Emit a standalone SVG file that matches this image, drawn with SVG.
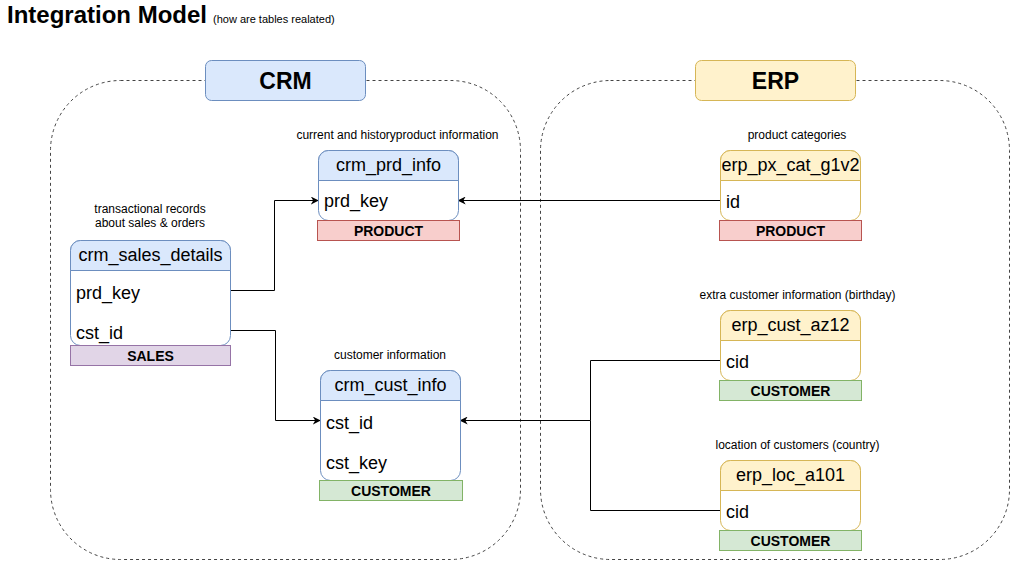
<svg xmlns="http://www.w3.org/2000/svg" width="1011" height="561" viewBox="0 0 1011 561">
<defs>
<marker id="arr" viewBox="0 0 10 10" refX="9" refY="5" markerWidth="8" markerHeight="8" markerUnits="userSpaceOnUse" orient="auto">
<path d="M0,0 L10,5 L0,10 L3,5 Z" fill="#000"/>
</marker>
<style>
text{font-family:"Liberation Sans",Arial,sans-serif;fill:#000}
.cont{fill:none;stroke:#444;stroke-dasharray:3 3;stroke-width:1}
.lbl{font-size:23px;font-weight:bold;text-anchor:middle}
.note{font-size:12px;text-anchor:middle}
.hdr{font-size:18px;text-anchor:middle}
.row{font-size:18px}
.tag{font-size:14px;font-weight:bold;text-anchor:middle}
.blue{stroke:#6c8ebf}
.yel{stroke:#d6b656}
.body{fill:#fff;stroke-width:1}
.conn{fill:none;stroke:#000;stroke-width:1}
</style>
</defs>
<rect width="1011" height="561" fill="#fff"/>
<g id="title">
<text x="7" y="23" font-size="24" font-weight="bold">Integration Model</text>
<text x="213" y="23" font-size="11">(how are tables realated)</text>
</g>
<g id="crm-container">
<rect class="cont" x="50.5" y="80.5" width="470" height="479" rx="70"/>
<rect x="205.5" y="60.5" width="160" height="40" rx="6" fill="#dae8fc" stroke="#6c8ebf"/>
<text class="lbl" x="285.5" y="88.5">CRM</text>
</g>
<g id="erp-container">
<rect class="cont" x="540.5" y="80.5" width="469" height="479" rx="70"/>
<rect x="695.5" y="60.5" width="160" height="40" rx="6" fill="#fff2cc" stroke="#d6b656"/>
<text class="lbl" x="775.5" y="88.5">ERP</text>
</g>
<g id="connectors">
<path class="conn" d="M230.5 290.5 H274.5 V200.5 H318" marker-end="url(#arr)"/>
<path class="conn" d="M230.5 330.5 H275.5 V420.5 H320" marker-end="url(#arr)"/>
<path class="conn" d="M720 200.5 H458.5" marker-end="url(#arr)"/>
<path class="conn" d="M720 360.5 H590.5 V420.5 H460.5" marker-end="url(#arr)"/>
<path class="conn" d="M720 510.5 H590.5 V420.5"/>
</g>
<g id="crm_prd_info">
<text class="note" x="397.5" y="138.5">current and historyproduct information</text>
<rect class="body blue" x="318.5" y="150.5" width="140" height="70" rx="10"/>
<path d="M318.5 180.5 V160.5 A10 10 0 0 1 328.5 150.5 H448.5 A10 10 0 0 1 458.5 160.5 V180.5 Z" fill="#dae8fc" stroke="#6c8ebf"/>
<text class="hdr" x="388.5" y="171">crm_prd_info</text>
<text class="row" x="324" y="207">prd_key</text>
<rect x="317.5" y="220.5" width="142" height="20" fill="#f8cecc" stroke="#b85450"/>
<text class="tag" x="388.5" y="235.5">PRODUCT</text>
</g>
<g id="crm_sales_details">
<text class="note" x="150" y="212.5">transactional records</text>
<text class="note" x="150" y="226.5">about sales &amp; orders</text>
<rect class="body blue" x="70.5" y="240.5" width="160" height="105" rx="10"/>
<path d="M70.5 270.5 V250.5 A10 10 0 0 1 80.5 240.5 H220.5 A10 10 0 0 1 230.5 250.5 V270.5 Z" fill="#dae8fc" stroke="#6c8ebf"/>
<text class="hdr" x="150.5" y="261">crm_sales_details</text>
<text class="row" x="76" y="299">prd_key</text>
<text class="row" x="76" y="339">cst_id</text>
<rect x="70.5" y="345.5" width="160" height="20" fill="#e1d5e7" stroke="#9673a6"/>
<text class="tag" x="150.5" y="360.5">SALES</text>
</g>
<g id="crm_cust_info">
<text class="note" x="390" y="358.5">customer information</text>
<rect class="body blue" x="320.5" y="370.5" width="140" height="110" rx="10"/>
<path d="M320.5 400.5 V380.5 A10 10 0 0 1 330.5 370.5 H450.5 A10 10 0 0 1 460.5 380.5 V400.5 Z" fill="#dae8fc" stroke="#6c8ebf"/>
<text class="hdr" x="390.5" y="391">crm_cust_info</text>
<text class="row" x="326" y="428.5">cst_id</text>
<text class="row" x="326" y="468.5">cst_key</text>
<rect x="319.5" y="480.5" width="143" height="20" fill="#d5e8d4" stroke="#82b366"/>
<text class="tag" x="391" y="495.5">CUSTOMER</text>
</g>
<g id="erp_px_cat_g1v2">
<text class="note" x="797" y="138.5">product categories</text>
<rect class="body yel" x="720.5" y="150.5" width="140" height="70" rx="10"/>
<path d="M720.5 180.5 V160.5 A10 10 0 0 1 730.5 150.5 H850.5 A10 10 0 0 1 860.5 160.5 V180.5 Z" fill="#fff2cc" stroke="#d6b656"/>
<text class="hdr" x="790.5" y="171">erp_px_cat_g1v2</text>
<text class="row" x="726" y="208">id</text>
<rect x="719.5" y="220.5" width="142" height="20" fill="#f8cecc" stroke="#b85450"/>
<text class="tag" x="790.5" y="235.5">PRODUCT</text>
</g>
<g id="erp_cust_az12">
<text class="note" x="797.5" y="298.5">extra customer information (birthday)</text>
<rect class="body yel" x="720.5" y="310.5" width="140" height="70" rx="10"/>
<path d="M720.5 340.5 V320.5 A10 10 0 0 1 730.5 310.5 H850.5 A10 10 0 0 1 860.5 320.5 V340.5 Z" fill="#fff2cc" stroke="#d6b656"/>
<text class="hdr" x="790.5" y="331">erp_cust_az12</text>
<text class="row" x="726" y="368">cid</text>
<rect x="719.5" y="380.5" width="142" height="20" fill="#d5e8d4" stroke="#82b366"/>
<text class="tag" x="790.5" y="395.5">CUSTOMER</text>
</g>
<g id="erp_loc_a101">
<text class="note" x="797.5" y="448.5">location of customers (country)</text>
<rect class="body yel" x="720.5" y="460.5" width="140" height="70" rx="10"/>
<path d="M720.5 490.5 V470.5 A10 10 0 0 1 730.5 460.5 H850.5 A10 10 0 0 1 860.5 470.5 V490.5 Z" fill="#fff2cc" stroke="#d6b656"/>
<text class="hdr" x="790.5" y="481">erp_loc_a101</text>
<text class="row" x="726" y="518">cid</text>
<rect x="719.5" y="530.5" width="142" height="20" fill="#d5e8d4" stroke="#82b366"/>
<text class="tag" x="790.5" y="545.5">CUSTOMER</text>
</g>
</svg>
